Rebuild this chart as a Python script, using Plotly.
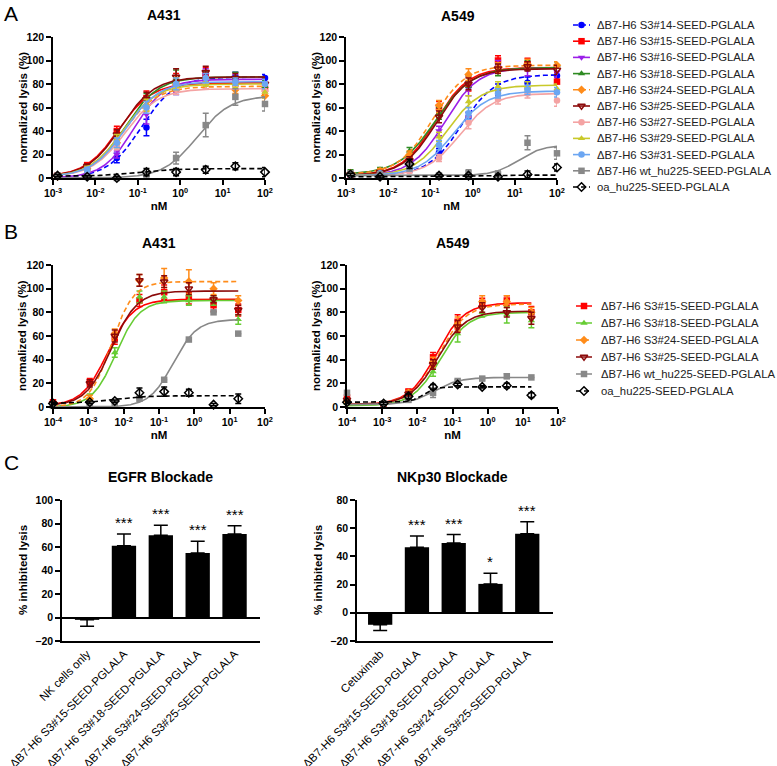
import numpy as np
import plotly.graph_objects as go

# ---------------- data ----------------
conc_A = [0.00128, 0.0064, 0.032, 0.16, 0.8, 4, 20, 100]
conc_B = [0.0001, 0.0011, 0.0056, 0.028, 0.14, 0.7, 3.5, 17.5]

names_A = ["ΔB7-H6 S3#14-SEED-PGLALA", "ΔB7-H6 S3#15-SEED-PGLALA", "ΔB7-H6 S3#16-SEED-PGLALA",
           "ΔB7-H6 S3#18-SEED-PGLALA", "ΔB7-H6 S3#24-SEED-PGLALA", "ΔB7-H6 S3#25-SEED-PGLALA",
           "ΔB7-H6 S3#27-SEED-PGLALA", "ΔB7-H6 S3#29-SEED-PGLALA", "ΔB7-H6 S3#31-SEED-PGLALA",
           "ΔB7-H6 wt_hu225-SEED-PGLALA", "oa_hu225-SEED-PGLALA"]
colors_A = ["#0000FF", "#FF0000", "#9B1FE8", "#2E8B22", "#FF8C1A", "#8B0A0A",
            "#F4A3A3", "#C9C92A", "#6CA6F2", "#888888", "#000000"]
symbols_A = ["circle", "square", "triangle-down", "triangle-up", "diamond", "triangle-down-open",
             "circle", "triangle-up", "circle", "square", "diamond-open"]
dashes_A = ["5px,3px", "solid", "solid", "solid", "5px,3px", "solid", "solid", "solid", "solid",
            "solid", "5px,3px"]

# Panel A, A431: mean normalized lysis (%) and SEM per series
A431_A_mean = [
    [1, 4, 17, 43, 75, 87, 86, 85],
    [2, 11, 40, 68, 82, 88, 82, 76],
    [1, 6, 20, 54, 78, 88, 84, 80],
    [2, 9, 31, 66, 84, 86, 86, 78],
    [1, 8, 30, 62, 80, 80, 75, 70],
    [2, 10, 37, 67, 86, 90, 85, 80],
    [1, 7, 28, 60, 76, 80, 79, 74],
    [2, 8, 33, 62, 80, 82, 80, 73],
    [1, 7, 30, 60, 80, 85, 82, 80],
    [2, 1, 0, 3, 17, 45, 69, 63],
    [2, 1, 0, 5, 5, 7, 10, 5],
]
A431_A_err = [
    [1, 2, 4, 7, 4, 4, 4, 3],
    [1, 2, 4, 6, 7, 6, 4, 5],
    [1, 1, 3, 8, 5, 5, 4, 4],
    [1, 2, 5, 6, 8, 5, 4, 5],
    [1, 2, 4, 5, 6, 4, 3, 5],
    [1, 2, 4, 6, 7, 5, 4, 5],
    [1, 2, 4, 5, 5, 4, 3, 6],
    [1, 2, 4, 5, 5, 4, 3, 5],
    [1, 2, 4, 5, 5, 4, 3, 4],
    [1, 1, 1, 2, 5, 10, 7, 6],
    [1, 1, 1, 3, 3, 3, 3, 4],
]
# fitted 4PL parameters: bottom, top, EC50 (nM), hill
A431_A_bottom = [0, 1, 0, 1, 1, 1, 1, 1, 1, 0, 1.5]
A431_A_top = [86, 81, 84, 86, 78, 86, 76, 80, 82, 70, 8]
A431_A_ec50 = [0.12, 0.035, 0.08, 0.05, 0.045, 0.04, 0.05, 0.045, 0.05, 2.5, 0.1]
A431_A_hill = [1.1, 1.1, 1.2, 1.1, 1.1, 1.1, 1.1, 1.1, 1.1, 1.1, 1.0]

# Panel A, A549
A549_A_mean = [
    [2, 3, 7, 22, 52, 75, 81, 87],
    [3, 5, 15, 60, 80, 100, 97, 82],
    [2, 4, 12, 40, 76, 95, 92, 90],
    [5, 7, 23, 55, 82, 92, 96, 96],
    [4, 6, 20, 62, 88, 94, 97, 96],
    [3, 5, 15, 52, 80, 93, 95, 92],
    [2, 3, 6, 17, 47, 67, 72, 66],
    [3, 4, 10, 35, 65, 78, 78, 76],
    [3, 4, 8, 28, 55, 72, 75, 73],
    [4, 3, 10, 2, 4, 3, 30, 21],
    [3, 1, 12, 2, 2, 1, 3, 9],
]
A549_A_err = [
    [1, 1, 2, 3, 4, 5, 5, 4],
    [1, 2, 3, 5, 6, 4, 5, 8],
    [1, 1, 3, 4, 6, 5, 5, 4],
    [2, 2, 3, 5, 5, 5, 4, 3],
    [1, 2, 3, 4, 5, 4, 4, 3],
    [1, 1, 3, 5, 5, 4, 4, 4],
    [1, 1, 2, 3, 5, 4, 4, 5],
    [1, 1, 2, 4, 5, 4, 4, 4],
    [1, 1, 2, 4, 5, 4, 4, 4],
    [1, 1, 4, 2, 3, 3, 6, 5],
    [1, 1, 4, 1, 1, 2, 3, 3],
]
A549_A_bottom = [2, 2, 2, 3, 3, 2, 2, 2, 2, 2, 1]
A549_A_top = [88, 94, 94, 94, 96, 93, 72, 79, 74, 28, 2.5]
A549_A_ec50 = [0.55, 0.13, 0.22, 0.13, 0.11, 0.14, 0.5, 0.25, 0.35, 12, 1.0]
A549_A_hill = [1.1, 1.1, 1.1, 1.0, 1.1, 1.1, 1.1, 1.1, 1.1, 1.5, 1.0]

# Panel B series
names_B = ["ΔB7-H6 S3#15-SEED-PGLALA", "ΔB7-H6 S3#18-SEED-PGLALA", "ΔB7-H6 S3#24-SEED-PGLALA",
           "ΔB7-H6 S3#25-SEED-PGLALA", "ΔB7-H6 wt_hu225-SEED-PGLALA", "oa_hu225-SEED-PGLALA"]
colors_B = ["#FF0000", "#66CC33", "#FF8C1A", "#8B0A0A", "#888888", "#000000"]
symbols_B = ["square", "triangle-up", "diamond", "triangle-down-open", "square", "diamond-open"]
dashes_B = ["solid", "solid", "5px,3px", "solid", "solid", "5px,3px"]

A431_B_mean = [
    [4, 21, 58, 90, 97, 92, 86, 82],
    [2, 8, 46, 93, 93, 90, 90, 74],
    [3, 7, 62, 107, 109, 106, 100, 90],
    [3, 20, 60, 107, 106, 100, 91, 82],
    [1, 2, 3, 7, 23, 57, 80, 62],
    [3, 4, 5, 12, 13, 12, 2, 7],
]
A431_B_err = [
    [2, 3, 5, 5, 6, 5, 5, 5],
    [1, 3, 4, 5, 5, 4, 4, 4],
    [1, 3, 4, 5, 8, 10, 5, 4],
    [1, 3, 5, 5, 5, 5, 3, 4],
    [0, 0, 0, 0, 0, 0, 0, 0],
    [1, 1, 1, 4, 4, 3, 1, 4],
]
A431_B_bottom = [1, 0, 0, 1, 0, 3]
A431_B_top = [91, 90, 106, 98, 74, 9.5]
A431_B_ec50 = [0.0035, 0.006, 0.0045, 0.0045, 0.25, 0.005]
A431_B_hill = [1.2, 1.3, 1.4, 1.2, 1.3, 1.0]

A549_B_mean = [
    [8, 2, 13, 42, 72, 88, 90, 80],
    [3, 3, 10, 30, 62, 80, 78, 73],
    [5, 3, 12, 38, 70, 89, 89, 80],
    [6, 3, 11, 36, 68, 84, 80, 75],
    [12, 3, 6, 12, 22, 24, 26, 25],
    [4, 3, 9, 17, 19, 17, 18, 10],
]
A549_B_err = [
    [3, 2, 2, 4, 6, 4, 4, 5],
    [1, 1, 2, 4, 7, 4, 7, 6],
    [2, 1, 2, 4, 6, 5, 5, 4],
    [2, 1, 2, 4, 5, 4, 4, 5],
    [0, 0, 0, 4, 1, 1, 2, 0],
    [1, 1, 2, 2, 1, 1, 2, 2],
]
A549_B_bottom = [2, 1, 2, 2, 2, 4]
A549_B_top = [88, 80, 87, 81, 25, 17]
A549_B_ec50 = [0.035, 0.045, 0.04, 0.038, 0.03, 0.015]
A549_B_hill = [1.1, 1.1, 1.1, 1.1, 1.2, 2.5]

# Panel C
EGFR_labels = ["NK cells only", "ΔB7-H6 S3#15-SEED-PGLALA", "ΔB7-H6 S3#18-SEED-PGLALA",
               "ΔB7-H6 S3#24-SEED-PGLALA", "ΔB7-H6 S3#25-SEED-PGLALA"]
EGFR_values = [-2, 61, 70, 55, 71]
EGFR_err = [5.5, 10, 8.5, 10, 7]
EGFR_stars = ["", "***", "***", "***", "***"]

NKp30_labels = ["Cetuximab", "ΔB7-H6 S3#15-SEED-PGLALA", "ΔB7-H6 S3#18-SEED-PGLALA",
                "ΔB7-H6 S3#24-SEED-PGLALA", "ΔB7-H6 S3#25-SEED-PGLALA"]
NKp30_values = [-8.5, 46.5, 49.5, 20.5, 56]
NKp30_err = [4, 8, 6, 7.5, 8.5]
NKp30_stars = ["", "***", "***", "*", "***"]

log_ticks_A = [-3, -2, -1, 0, 1, 2]
log_ticks_B = [-4, -3, -2, -1, 0, 1, 2]

# ---------------- figure ----------------
W, H = 777, 766
FONT = "Liberation Sans, Arial, sans-serif"


def px_x(a, b):
    return [a / W, b / W]


def px_y(top, bottom):
    return [1 - bottom / H, 1 - top / H]


fig = go.Figure()


def four_pl(x, bottom, top, ec50, hill):
    return bottom + (top - bottom) / (1 + (ec50 / x) ** hill)


def marker_style(color, symbol):
    open_sym = symbol.endswith("open")
    return dict(color=color, symbol=symbol, size=6.5,
                line=dict(color=color, width=1.5 if open_sym else 0))


def add_dose_panel(xa, ya, conc, means, errs, bottoms, tops, ec50s, hills,
                   colors, symbols, dashes):
    xs = np.logspace(np.log10(min(conc)), np.log10(max(conc)), 300)
    for i in range(len(means)):
        c = colors[i]
        fig.add_trace(go.Scatter(
            x=xs, y=four_pl(xs, bottoms[i], tops[i], ec50s[i], hills[i]),
            mode="lines", line=dict(color=c, width=1.6, dash=dashes[i]),
            xaxis=xa, yaxis=ya, showlegend=False, hoverinfo="skip"))
        fig.add_trace(go.Scatter(
            x=conc, y=means[i], mode="markers", marker=marker_style(c, symbols[i]),
            error_y=dict(type="data", array=errs[i], visible=True, color=c,
                         thickness=1.5, width=3),
            cliponaxis=False, xaxis=xa, yaxis=ya, showlegend=False))


def add_legend(xa, ya, names, colors, symbols, dashes, xshift):
    # legend drawn on its own hidden axes: one row per series
    for i, name in enumerate(names):
        fig.add_trace(go.Scatter(
            x=[0, 1], y=[i, i], mode="lines",
            line=dict(color=colors[i], width=1.6, dash=dashes[i]),
            xaxis=xa, yaxis=ya, showlegend=False, hoverinfo="skip", cliponaxis=False))
        fig.add_trace(go.Scatter(
            x=[0.5], y=[i], mode="markers", marker=marker_style(colors[i], symbols[i]),
            xaxis=xa, yaxis=ya, showlegend=False, hoverinfo="skip", cliponaxis=False))
        fig.add_annotation(x=1, y=i, xref=xa, yref=ya, text=name, showarrow=False,
                           xanchor="left", yanchor="middle", xshift=xshift,
                           font=dict(family=FONT, size=11.3, color="#222"))


add_dose_panel("x", "y", conc_A, A431_A_mean, A431_A_err, A431_A_bottom, A431_A_top,
               A431_A_ec50, A431_A_hill, colors_A, symbols_A, dashes_A)
add_dose_panel("x2", "y2", conc_A, A549_A_mean, A549_A_err, A549_A_bottom, A549_A_top,
               A549_A_ec50, A549_A_hill, colors_A, symbols_A, dashes_A)
add_dose_panel("x3", "y3", conc_B, A431_B_mean, A431_B_err, A431_B_bottom, A431_B_top,
               A431_B_ec50, A431_B_hill, colors_B, symbols_B, dashes_B)
add_dose_panel("x4", "y4", conc_B, A549_B_mean, A549_B_err, A549_B_bottom, A549_B_top,
               A549_B_ec50, A549_B_hill, colors_B, symbols_B, dashes_B)
add_legend("x7", "y7", names_A, colors_A, symbols_A, dashes_A, 5)
add_legend("x8", "y8", names_B, colors_B, symbols_B, dashes_B, 7)


def add_bar_panel(xa, ya, labels, values, errs, stars):
    plus = [e if v >= 0 else 0 for v, e in zip(values, errs)]
    minus = [e if v < 0 else 0 for v, e in zip(values, errs)]
    fig.add_trace(go.Bar(
        x=labels, y=values, width=0.66, marker=dict(color="black", line=dict(width=0)),
        error_y=dict(type="data", symmetric=False, array=plus, arrayminus=minus,
                     color="black", thickness=1.5, width=7),
        xaxis=xa, yaxis=ya, showlegend=False))
    for lab, v, e, s in zip(labels, values, errs, stars):
        if s:
            fig.add_annotation(x=lab, y=v + e, xref=xa, yref=ya, text=s, showarrow=False,
                               yanchor="bottom", yshift=1,
                               font=dict(family=FONT, size=15, color="black"))


add_bar_panel("x5", "y5", EGFR_labels, EGFR_values, EGFR_err, EGFR_stars)
add_bar_panel("x6", "y6", NKp30_labels, NKp30_values, NKp30_err, NKp30_stars)

tickfont = dict(family=FONT, size=10.5, color="black", weight="bold")
titlefont = dict(family=FONT, size=11.5, color="black", weight="bold")
axis_common = dict(showline=True, linecolor="black", linewidth=1.5, ticks="outside",
                   ticklen=5, tickwidth=1.5, tickcolor="black", showgrid=False,
                   zeroline=False, automargin=False, tickfont=tickfont)


def log_axis(domain, exps, anchor):
    return dict(axis_common, type="log", domain=domain, anchor=anchor,
                range=[exps[0], exps[-1]], tickmode="array",
                tickvals=[10.0 ** e for e in exps],
                ticktext=[f"10<sup>{e}</sup>" for e in exps],
                title=dict(text="nM", font=titlefont, standoff=4))


def lin_axis(domain, rng, dtick, anchor, zero=False):
    d = dict(axis_common, domain=domain, range=rng, dtick=dtick, tick0=0, anchor=anchor)
    if zero:
        d.update(zeroline=True, zerolinecolor="black", zerolinewidth=1.5)
    return d


def hidden_axis(domain, rng, anchor):
    return dict(domain=domain, range=rng, anchor=anchor, visible=False, fixedrange=True,
                showgrid=False, zeroline=False, automargin=False)


yA = px_y(37, 178)
yB = px_y(265, 407)
yC = px_y(500, 641)
cat_font = dict(family=FONT, size=11.5, color="black")

fig.update_layout(
    width=W, height=H, margin=dict(l=0, r=0, t=0, b=0),
    paper_bgcolor="white", plot_bgcolor="white",
    font=dict(family=FONT, color="black"),
    showlegend=False,
    xaxis=log_axis(px_x(53, 265), log_ticks_A, "y"),
    yaxis=lin_axis(yA, [0, 120], 20, "x"),
    xaxis2=log_axis(px_x(346, 557), log_ticks_A, "y2"),
    yaxis2=lin_axis(yA, [0, 120], 20, "x2"),
    xaxis3=log_axis(px_x(53, 265), log_ticks_B, "y3"),
    yaxis3=lin_axis(yB, [0, 120], 20, "x3"),
    xaxis4=log_axis(px_x(347, 558), log_ticks_B, "y4"),
    yaxis4=lin_axis(yB, [0, 120], 20, "x4"),
    xaxis5=dict(axis_common, domain=px_x(62, 260), range=[-0.68, 4.69], anchor="y5",
                ticks="", tickangle=-45, tickfont=cat_font),
    yaxis5=lin_axis(yC, [-20, 100], 20, "x5", zero=True),
    xaxis6=dict(axis_common, domain=px_x(357, 553), range=[-0.63, 4.7], anchor="y6",
                ticks="", tickangle=-45, tickfont=cat_font),
    yaxis6=lin_axis(yC, [-20, 80], 20, "x6", zero=True),
    xaxis7=hidden_axis(px_x(573, 590), [0, 1], "y7"),
    yaxis7=hidden_axis(px_y(25 - 8.1, 187 + 8.1), [10.5, -0.5], "x7"),
    xaxis8=hidden_axis(px_x(576, 592), [0, 1], "y8"),
    yaxis8=hidden_axis(px_y(306 - 8.5, 391 + 8.5), [5.5, -0.5], "x8"),
)

# panel titles, axis titles and panel letters
title_font = dict(family=FONT, size=14, color="black", weight="bold")
for txt, x, y in [("A431", 164, 15), ("A549", 458, 16), ("A431", 159, 243), ("A549", 453, 243),
                  ("EGFR Blockade", 160, 477), ("NKp30 Blockade", 453, 477)]:
    fig.add_annotation(text=txt, x=x / W, y=1 - y / H, xref="paper", yref="paper",
                       showarrow=False, xanchor="center", yanchor="middle", font=title_font)
for txt, x, y in [("normalized lysis (%)", 22, 107.5), ("normalized lysis (%)", 315, 107.5),
                  ("normalized lysis (%)", 22, 336), ("normalized lysis (%)", 316, 336),
                  ("% inhibited lysis", 23, 570), ("% inhibited lysis", 318, 570)]:
    fig.add_annotation(text=txt, x=x / W, y=1 - y / H, xref="paper", yref="paper",
                       showarrow=False, textangle=-90, xanchor="center", yanchor="middle",
                       font=titlefont)
for txt, y in [("A", 14), ("B", 232), ("C", 462)]:
    fig.add_annotation(text=txt, x=2 / W, y=1 - y / H, xref="paper", yref="paper",
                       showarrow=False, xanchor="left", yanchor="middle",
                       font=dict(family=FONT, size=21, color="black"))

fig.write_html("out.html", config={"displayModeBar": False},
               post_script="document.body.style.margin='0';document.body.style.overflow='hidden';")
